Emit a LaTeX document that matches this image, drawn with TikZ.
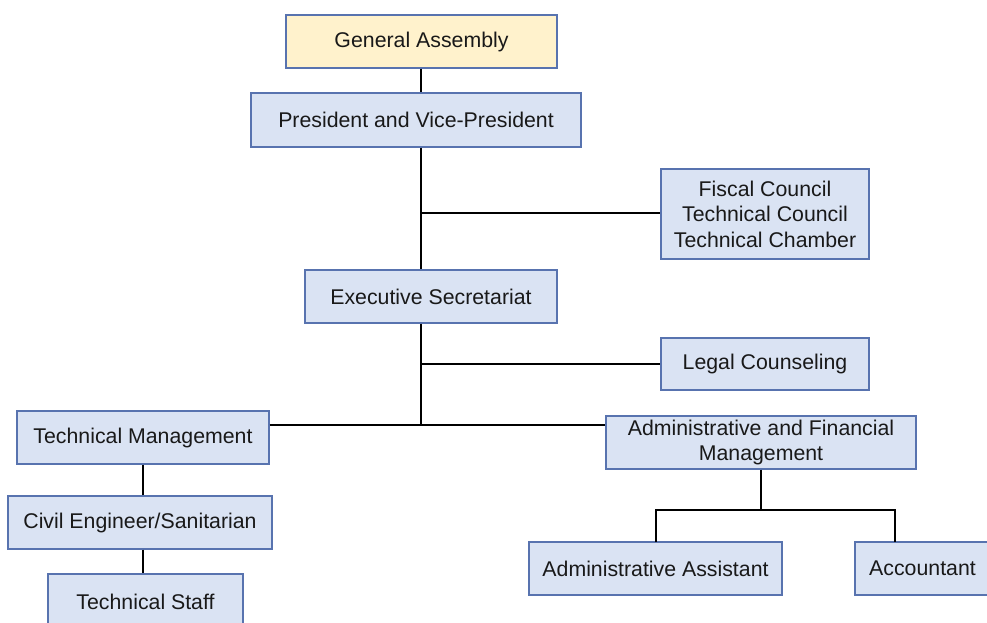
\documentclass[tikz,border=0pt]{standalone}
\usepackage{fontspec}
\setmainfont{Liberation Sans}
\begin{document}
\begin{tikzpicture}[x=1pt,y=-1pt,
  box/.style={draw={rgb,255:red,88;green,115;blue,175}, line width=1.2pt,
    fill={rgb,255:red,218;green,227;blue,243}, inner sep=0pt,
    align=center, text={rgb,255:red,25;green,25;blue,25},
    font=\fontsize{21.3}{25.5}\selectfont},
  ybox/.style={box, fill={rgb,255:red,255;green,242;blue,204}},
  conn/.style={draw=black, line width=2.3pt, line join=miter}]
\useasboundingbox (0,0) rectangle (987,623);
\node[ybox, minimum width=271pt, minimum height=53pt] (GA) at (421.5,41.5) {General Assembly};
\node[box, minimum width=330pt, minimum height=54pt] (Pres) at (416,120) {President and Vice-President};
\node[box, minimum width=208pt, minimum height=90pt] (Fisc) at (765,214) {Fiscal Council\\Technical Council\\Technical Chamber};
\node[box, minimum width=252pt, minimum height=53pt] (Exec) at (431,296.5) {Executive Secretariat};
\node[box, minimum width=208pt, minimum height=52pt] (Legal) at (765,364) {Legal Counseling};
\node[box, minimum width=252pt, minimum height=53pt] (TM) at (143,437.5) {Technical Management};
\node[box, minimum width=310pt, minimum height=53pt] (AFM) at (761,442.5) {Administrative and Financial\\Management};
\node[box, minimum width=264pt, minimum height=53pt] (CE) at (140,522.5) {Civil Engineer/Sanitarian};
\node[box, minimum width=195pt, minimum height=56pt] (TS) at (145.5,602) {Technical Staff};
\node[box, minimum width=253pt, minimum height=53pt] (AA) at (655.5,568.5) {Administrative Assistant};
\node[box, minimum width=135pt, minimum height=53pt] (Acc) at (922.5,568.5) {Accountant};
\coordinate (t1) at (421,213);
\coordinate (t2) at (421,425);
\coordinate (b) at (761,510);
\coordinate (aain) at (656,542);
\coordinate (accin) at (895,542);
\draw[conn] (t1 |- GA.south) -- (t1 |- Pres.north);
\draw[conn] (t1 |- Pres.south) -- (t1 |- Exec.north);
\draw[conn] (t1) -- (t1 -| Fisc.west);
\draw[conn] (t1 |- Exec.south) -- (t2);
\draw[conn] (t1 |- Legal.west) -- (Legal.west);
\draw[conn] (TM.east |- t2) -- (t2 -| AFM.west);
\draw[conn] (TM.south) -- (TM.south |- CE.north);
\draw[conn] (TM.south |- CE.south) -- (TM.south |- TS.north);
\draw[conn] (AFM.south) -- (b);
\draw[conn] (aain) -- (aain |- b) -- (b -| accin) -- (accin);
\end{tikzpicture}
\end{document}
